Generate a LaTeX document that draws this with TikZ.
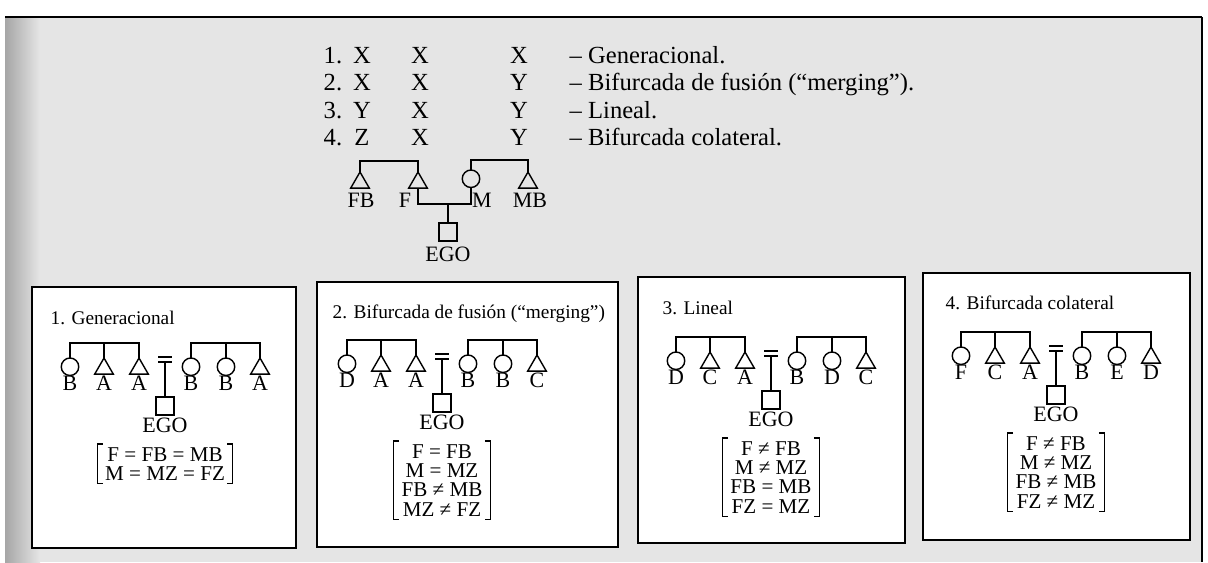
\documentclass[tikz,border=0pt]{standalone}
\usepackage{fontspec}
\setmainfont{Liberation Serif}
\usetikzlibrary{shapes.geometric}

\tikzset{
  male/.style={draw,regular polygon,regular polygon sides=3,minimum size=0.43cm,inner sep=0pt,outer sep=0pt},
  female/.style={draw,circle,minimum size=0.35cm,inner sep=0pt,outer sep=0pt},
  egobox/.style={draw,rectangle,minimum size=0.36cm,inner sep=0pt,outer sep=0pt},
  kin/.style={inner sep=0pt,font=\fontsize{12.5}{14}\selectfont},
  listtxt/.style={inner sep=0pt,font=\fontsize{14}{16}\selectfont},
  boxtitle/.style={inner sep=0pt,font=\fontsize{11}{14}\selectfont},
  eqn/.style={inner xsep=4pt,inner ysep=1.5pt,font=\fontsize{12}{11}\selectfont,align=center},
  brack/.style={line width=0.6pt},
  kinbox/.style={draw,fill=white},
}

\begin{document}
\begin{tikzpicture}[x=0.02cm,y=-0.02cm,line width=0.8pt]
  \useasboundingbox (0,0) rectangle (1208,562);
  % page
  \fill[white] (0,0) rectangle (1208,562);
  \fill[black!10] (5,17) rectangle (1202,562);
  \shade[left color=black!35,right color=black!10] (5,17) rectangle (40,562);
  \draw[line width=1.3pt] (5,17) -- (1202,17);
  \draw (1202,17) -- (1202,562);

  % list of the four types
  \foreach \n/\a/\b/\c/\d in {1/X/X/X/Generacional., 2/X/X/Y/{Bifurcada de fusión (“merging”).}, 3/Y/X/Y/Lineal., 4/Z/X/Y/Bifurcada colateral.}{
    \node[listtxt,anchor=base west] (n\n) at (323,{35.5+27.5*\n}) {\n.};
    \node[listtxt,anchor=base] (a\n) at (362,{35.5+27.5*\n}) {\a};
    \node[listtxt,anchor=base] (b\n) at (420,{35.5+27.5*\n}) {\b};
    \node[listtxt,anchor=base] (c\n) at (519,{35.5+27.5*\n}) {\c};
    \node[listtxt,anchor=base west] (d\n) at (569,{35.5+27.5*\n}) {– \d};
  }

  % key pedigree
  \node[male,anchor=north] (fb) at (360,172) {};
  \node[male,anchor=north] (f) at (418,172) {};
  \node[female,anchor=north] (m) at (471,170) {};
  \node[male,anchor=north] (mb) at (528,172) {};
  \draw (fb.north) -- ++(0,-11) -| (f.north);
  \draw (m.north) -- ++(0,-10) -| (mb.north);
  \draw (f.south) -- ++(0,16) coordinate (fm) -| (m.south);
  \node[egobox,anchor=north] (ego) at (448,223) {};
  \draw (ego.north) -- (ego.north |- fm);
  \node[kin,anchor=base] (lfb) at (361,207) {FB};
  \node[kin,anchor=base] (lf) at (405,207) {F};
  \node[kin,anchor=base] (lm) at (482,207) {M};
  \node[kin,anchor=base] (lmb) at (530,207) {MB};
  \node[kin,anchor=base] (lego) at (448,261) {EGO};

  % the four boxes
  \foreach \k/\xa/\ya/\xb/\yb/\tx/\ty/\cx/\by/\ttl/\la/\lb/\lc/\ld/\le/\lf/\eqs in {
    1/32/287/296/548/50/324.5/165/343/{1. Generacional}/B/A/A/B/B/A/{F = FB = MB\\M = MZ = FZ},
    2/317/282/618/547/332/318.5/442/340/{2. Bifurcada de fusión (“merging”)}/D/A/A/B/B/C/{F = FB\\M = MZ\\FB ≠ MB\\MZ ≠ FZ},
    3/638/277/905/543/662/314.5/771/337/{3. Lineal}/D/C/A/B/D/C/{F ≠ FB\\M ≠ MZ\\FB = MB\\FZ = MZ},
    4/923/273/1190/540/945/309.5/1056/332/{4. Bifurcada colateral}/F/C/A/B/E/D/{F ≠ FB\\M ≠ MZ\\FB ≠ MB\\FZ ≠ MZ}}{
    \draw[kinbox] (\xa,\ya) rectangle (\xb,\yb);
    \node[boxtitle,anchor=base west] (t\k) at (\tx,\ty) {\ttl};
    \foreach \i/\dx in {1/-95,4/26,5/61}
      \node[female,anchor=north] (p\k-\i) at ({\cx+(\dx)},{\by+15}) {};
    \foreach \i/\dx in {2/-61,3/-26,6/95}
      \node[male,anchor=north] (p\k-\i) at ({\cx+(\dx)},{\by+15}) {};
    \foreach \i/\dx/\lab in {1/-95/\la,2/-61/\lb,3/-26/\lc,4/26/\ld,5/61/\le,6/95/\lf}
      \node[kin,anchor=base] (l\k-\i) at ({\cx+(\dx)},{\by+47}) {\lab};
    \draw (p\k-1.north) -- ++(0,-15) -| (p\k-3.north);
    \draw (p\k-2.north) -- ++(0,-15);
    \draw (p\k-4.north) -- ++(0,-15) -| (p\k-6.north);
    \draw (p\k-5.north) -- ++(0,-15);
    \draw ({\cx-7},{\by+14}) -- ++(14,0) ({\cx-7},{\by+19}) -- ++(14,0);
    \coordinate (w\k) at ({\cx},{\by+19});
    \node[egobox,anchor=north] (e\k) at ({\cx},{\by+54}) {};
    \draw (w\k) -- (e\k.north);
    \node[kin,anchor=base] (g\k) at ({\cx},{\by+89}) {EGO};
    \node[eqn,anchor=north] (q\k) at ({\cx},{\by+101}) {\eqs};
    \draw[brack] ([xshift=3pt]q\k.north west) -- (q\k.north west) -- (q\k.south west) -- ++(3pt,0);
    \draw[brack] ([xshift=-3pt]q\k.north east) -- (q\k.north east) -- (q\k.south east) -- ++(-3pt,0);
  }
\end{tikzpicture}
\end{document}
